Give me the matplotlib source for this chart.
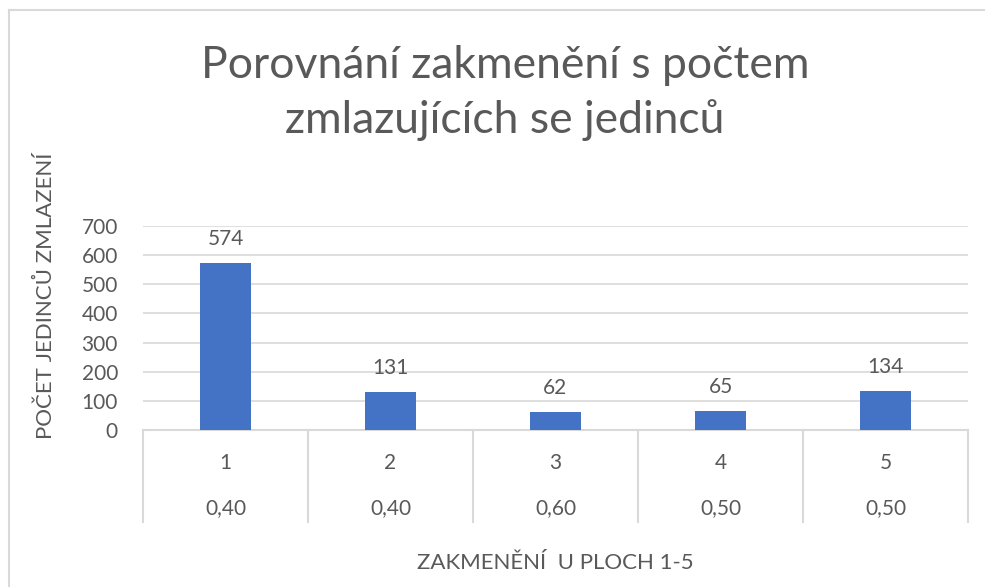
import matplotlib.pyplot as plt
from matplotlib.lines import Line2D

plt.rcParams['font.family'] = ['Lato', 'DejaVu Sans']

# seedlings counted on each plot, with the stand stocking level of the plot
plochy = ['1', '2', '3', '4', '5']
zakmeneni = ['0,40', '0,40', '0,60', '0,50', '0,50']
jedinci = [574, 131, 62, 65, 134]

TEXT = '#595959'
GRID = '#d9d9d9'
BAR = '#4472c4'

W, H = 985, 587
fig = plt.figure(figsize=(W / 100, H / 100), dpi=100)

# outer chart frame (only top and left edges visible)
fig.add_artist(Line2D([9 / W, 1], [1 - 10 / H, 1 - 10 / H], color=GRID, lw=1.5))
fig.add_artist(Line2D([9 / W, 9 / W], [0, 1 - 10 / H], color=GRID, lw=1.5))

left, right, top, bottom = 143, 968, 226, 430
ax = fig.add_axes([left / W, 1 - bottom / H, (right - left) / W, (bottom - top) / H])

x = list(range(len(plochy)))
bars = ax.bar(x, jedinci, width=0.31, color=BAR, zorder=3)
for b, v in zip(bars, jedinci):
    ax.annotate(str(v), (b.get_x() + b.get_width() / 2, v), xytext=(0, 10),
                textcoords='offset points', ha='center', va='bottom',
                fontsize=15, color=TEXT)

ax.set_xlim(-0.5, len(plochy) - 0.5)
ax.set_ylim(0, 700)
ax.set_yticks(range(0, 701, 100))
ax.yaxis.grid(True, color=GRID, lw=1.2, zorder=0)
for s in ax.spines.values():
    s.set_visible(False)
ax.tick_params(axis='y', length=0, pad=18, labelsize=15, labelcolor=TEXT)
ax.set_xticks([])

# two-level category axis drawn as a box grid below the plot
tr = ax.get_xaxis_transform()
depth = (522 - bottom) / (bottom - top)
for i in range(len(plochy) + 1):
    ax.add_line(Line2D([i - 0.5, i - 0.5], [0, -depth], transform=tr,
                       color=GRID, lw=1.5, clip_on=False))
ax.add_line(Line2D([-0.5, len(plochy) - 0.5], [0, 0], transform=tr,
                   color=GRID, lw=1.5, clip_on=False))
row1 = (463 - bottom) / (bottom - top)
row2 = (508 - bottom) / (bottom - top)
for i, (p, z) in enumerate(zip(plochy, zakmeneni)):
    ax.text(i, -row1, p, transform=tr, ha='center', va='center',
            fontsize=15, color=TEXT)
    ax.text(i, -row2, z, transform=tr, ha='center', va='center',
            fontsize=15, color=TEXT)

fig.text(505 / W, 1 - 93 / H, 'Porovnání zakmenění s počtem\nzmlazujících se jedinců',
         ha='center', va='center', fontsize=32, color=TEXT, linespacing=1.38)
fig.text(46 / W, 1 - 296 / H, 'POČET JEDINCŮ ZMLAZENÍ', rotation=90,
         ha='center', va='center', fontsize=16, color=TEXT)
fig.text(555 / W, 1 - 563 / H, 'ZAKMENĚNÍ  U PLOCH 1-5',
         ha='center', va='center', fontsize=16, color=TEXT)

fig.savefig('out.png', dpi=100, facecolor='white')
